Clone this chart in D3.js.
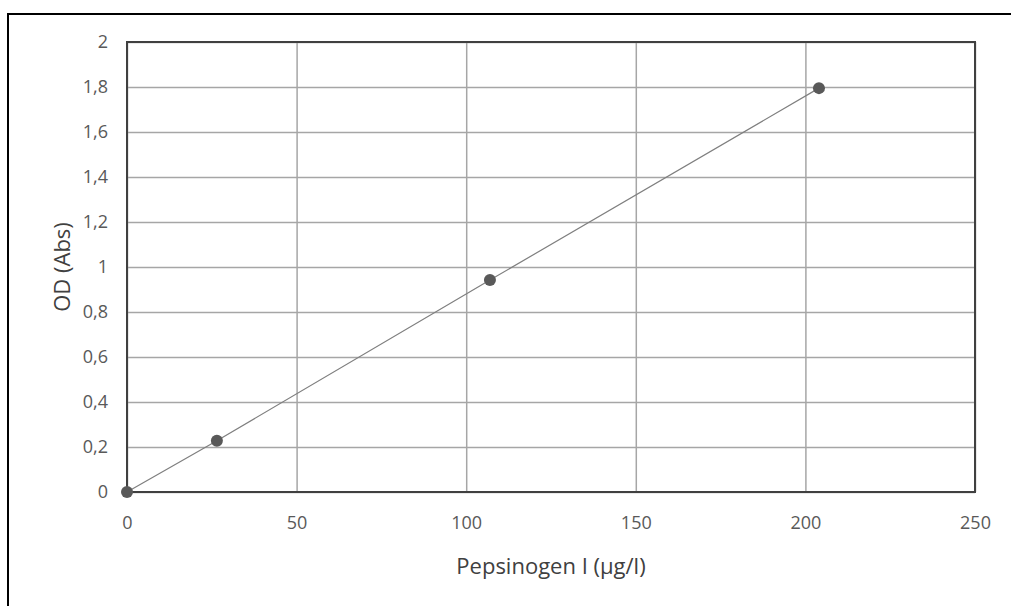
<!DOCTYPE html>
<html>
<head>
<meta charset="utf-8">
<script src="https://cdn.jsdelivr.net/npm/d3@7"></script>
<style>
  body { margin: 0; background: #fff; }
  svg { display: block; }
  text { font-family: "Open Sans", "Liberation Sans", sans-serif; }
</style>
</head>
<body>
<svg id="chart" width="1011" height="606"></svg>
<script>
// Valores
const concentrations = [0, 26.5, 107, 204]
const absorbances = [0, 0.228, 0.942, 1.795]
const xTicks = [0, 50, 100, 150, 200, 250]
const yTicks = [0, 0.2, 0.4, 0.6, 0.8, 1, 1.2, 1.4, 1.6, 1.8, 2]
const xTitle = 'Pepsinogen I (µg/l)'
const yTitle = 'OD (Abs)'

const width = 1011
const height = 606
const margin = { top: 42, right: 36, bottom: 114, left: 127 }
const tickFont = '18px'
const titleFont = '22px'

const svg = d3.select('#chart')

// Marco exterior (sólo lados superior e izquierdo visibles)
svg.append('path')
    .attr('d', `M8,${height} V14 H${width}`)
    .attr('fill', 'none')
    .attr('stroke', '#000')
    .attr('stroke-width', 2)

const xScale = d3.scaleLinear()
    .domain([0, 250])
    .range([margin.left, width - margin.right])

const yScale = d3.scaleLinear()
    .domain([0, 2])
    .range([height - margin.bottom, margin.top])

const fmt = v => String(+v.toFixed(1)).replace('.', ',')

// Rejilla vertical
svg.append('g')
    .attr('transform', `translate(0, ${height - margin.bottom})`)
    .call(d3.axisBottom(xScale).tickValues(xTicks)
        .tickSize(-(height - margin.top - margin.bottom)).tickFormat(''))
    .call(g => g.select('.domain').remove())
    .call(g => g.selectAll('line').attr('stroke', '#a6a6a6').attr('stroke-width', 1.5))

// Rejilla horizontal
svg.append('g')
    .attr('transform', `translate(${margin.left}, 0)`)
    .call(d3.axisLeft(yScale).tickValues(yTicks)
        .tickSize(-(width - margin.left - margin.right)).tickFormat(''))
    .call(g => g.select('.domain').remove())
    .call(g => g.selectAll('line').attr('stroke', '#a6a6a6').attr('stroke-width', 1.5))

// Borde del área de trazado
svg.append('rect')
    .attr('x', margin.left)
    .attr('y', margin.top)
    .attr('width', width - margin.left - margin.right)
    .attr('height', height - margin.top - margin.bottom)
    .attr('fill', 'none')
    .attr('stroke', '#404040')
    .attr('stroke-width', 2)

// Etiquetas del eje X
svg.append('g')
    .attr('transform', `translate(0, ${height - margin.bottom})`)
    .call(d3.axisBottom(xScale).tickValues(xTicks).tickSize(0).tickPadding(24).tickFormat(d => d))
    .call(g => g.select('.domain').remove())
    .call(g => g.selectAll('text')
        .attr('fill', '#595959')
        .style('font-size', tickFont)
        .style('font-family', '"Open Sans", "Liberation Sans", sans-serif'))

// Etiquetas del eje Y
svg.append('g')
    .attr('transform', `translate(${margin.left}, 0)`)
    .call(d3.axisLeft(yScale).tickValues(yTicks).tickSize(0).tickPadding(19).tickFormat(fmt))
    .call(g => g.select('.domain').remove())
    .call(g => g.selectAll('text')
        .attr('fill', '#595959')
        .style('font-size', tickFont)
        .style('font-family', '"Open Sans", "Liberation Sans", sans-serif'))

// Títulos de ejes
svg.append('text')
    .attr('x', (xScale(0) + xScale(250)) / 2)
    .attr('y', 574)
    .attr('text-anchor', 'middle')
    .attr('fill', '#404040')
    .style('font-size', titleFont)
    .text(xTitle)

svg.append('text')
    .attr('transform', `translate(70, ${(yScale(0) + yScale(2)) / 2}) rotate(-90)`)
    .attr('text-anchor', 'middle')
    .attr('fill', '#404040')
    .style('font-size', titleFont)
    .text(yTitle)

// Línea y puntos
const points = concentrations.map((c, i) => [c, absorbances[i]])

svg.append('path')
    .datum(points)
    .attr('fill', 'none')
    .attr('stroke', '#7f7f7f')
    .attr('stroke-width', 1.2)
    .attr('d', d3.line().x(d => xScale(d[0])).y(d => yScale(d[1])))

svg.selectAll('circle.pt')
    .data(points)
    .enter()
    .append('circle')
    .attr('class', 'pt')
    .attr('cx', d => xScale(d[0]))
    .attr('cy', d => yScale(d[1]))
    .attr('r', 6)
    .attr('fill', '#595959')
</script>
</body>
</html>
